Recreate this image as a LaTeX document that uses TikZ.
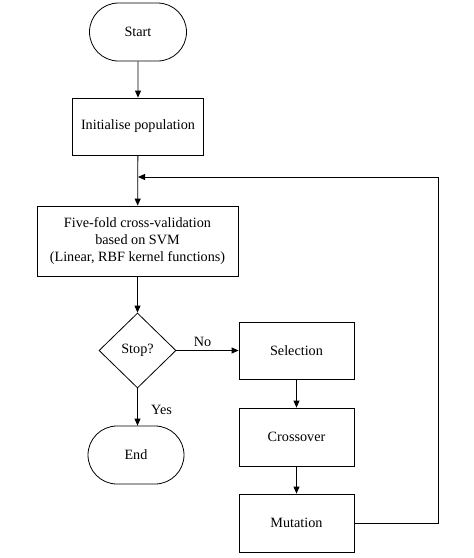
\documentclass[tikz,border=0pt]{standalone}
\usepackage{fontspec}
\setmainfont{Liberation Serif}
\usetikzlibrary{shapes.misc,shapes.geometric,arrows.meta}
\begin{document}
\begin{tikzpicture}[x=1pt,y=-1pt,
  line width=0.8pt,
  font=\fontsize{14.2}{17}\selectfont,
  arr/.style={-{Triangle[length=7pt,width=6pt]}},
  term/.style={draw,rounded rectangle,minimum width=97pt,minimum height=58pt,inner sep=0pt},
  proc/.style={draw,rectangle,minimum width=#1,inner sep=0pt},
  dec/.style={draw,diamond,minimum width=77pt,minimum height=75pt,inner sep=0pt,aspect=1}]
\useasboundingbox (0,0) rectangle (474,558);
\node[term] (start) at (138,32) {Start};
\node[proc=131pt,minimum height=57pt] (init) at (138,126.5) {Initialise population};
\node[proc=201pt,minimum height=70pt,align=center] (five) at (137.5,241) {Five-fold cross-validation\\based on SVM\\(Linear, RBF kernel functions)};
\node[dec] (stop) at (137.5,350.5) {Stop?};
\node[term,minimum width=96pt] (end) at (136,455) {End};
\node[proc=115pt,minimum height=57pt] (sel) at (296.5,350.5) {Selection};
\node[proc=115pt,minimum height=58pt] (cross) at (296.5,437) {Crossover};
\node[proc=115pt,minimum height=58pt] (mut) at (296.5,523) {Mutation};
\coordinate (join) at (138,177);
\coordinate (corner) at (438,523);
\coordinate (top) at (438,177);
\draw[arr] (start) -- (init);
\draw[arr] (init) -- (five);
\draw[arr] (five) -- (stop);
\draw[arr] (stop.south) -- node[right,xshift=10pt,yshift=-3pt] {Yes} (stop.south |- end.north);
\draw[arr] (stop) -- node[above,xshift=-5pt] {No} (sel);
\draw[arr] (sel) -- (cross);
\draw[arr] (cross) -- (mut);
\draw[arr] (mut.east) -- (corner) -- (top) -- (join);
\end{tikzpicture}
\end{document}
